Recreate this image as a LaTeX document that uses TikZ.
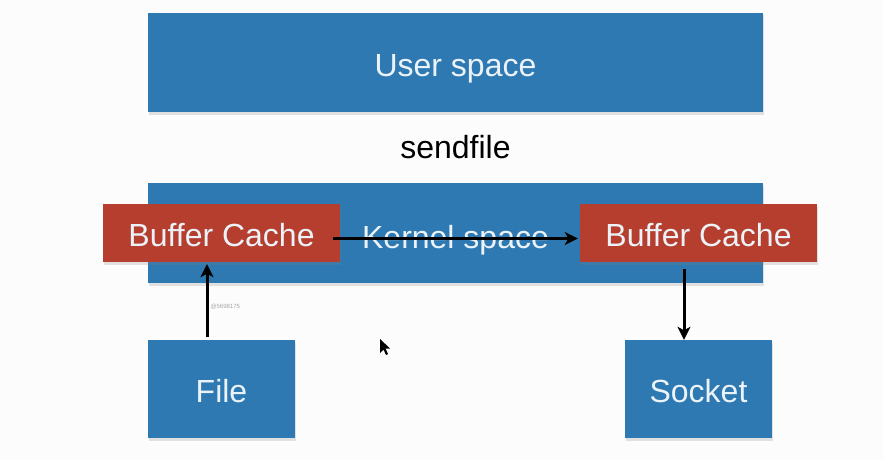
\documentclass[tikz,border=0pt]{standalone}
\usepackage{fontspec}
\setmainfont{Liberation Sans}
\usetikzlibrary{shadows,arrows.meta}
\definecolor{boxblue}{RGB}{46,121,178}
\definecolor{boxred}{RGB}{182,62,47}
\definecolor{labelwhite}{RGB}{236,243,248}
\definecolor{pagebg}{RGB}{252,252,252}
\begin{document}
\begin{tikzpicture}[x=1pt,y=-1pt,
  bigtext/.style={font=\fontsize{32}{38}\selectfont, text height=27pt, text depth=0pt},
  softshadow/.style={drop shadow={opacity=0.22, shadow xshift=1pt, shadow yshift=-2.5pt}},
  panel/.style={fill=boxblue, draw=none, minimum width=#1, text=labelwhite, bigtext, softshadow},
  cachebox/.style={fill=boxred, draw=none, minimum width=237pt, minimum height=58pt,
    text=labelwhite, bigtext, softshadow},
  flow/.style={draw=black, line width=3pt, -{Stealth[length=13pt,width=13pt,inset=3.5pt]}}]
\useasboundingbox[fill=pagebg] (0,0) rectangle (883,460);
% address spaces
\node[panel=615pt, minimum height=99pt] (user) at (455.5,62.5) {User space};
\node[font=\fontsize{32}{38}\selectfont, anchor=base] (call) at (455.5,158) {sendfile};
\node[panel=615pt, minimum height=100pt] (kernel) at (455.5,233) {};
\node[text=labelwhite, bigtext] (klabel) at (455.5,235) {Kernel space};
% page caches
\node[cachebox] (lbuf) at (221.5,233) {Buffer Cache};
\node[cachebox] (rbuf) at (698.5,233) {Buffer Cache};
% endpoints
\node[panel=147pt, minimum height=98pt] (file) at (221.5,389) {File};
\node[panel=147pt, minimum height=98pt] (sock) at (698.5,389) {Socket};
% data path
\draw[flow] ([xshift=-14.5pt,yshift=3pt]file.north) -- ([xshift=-14.5pt,yshift=-2pt]lbuf.south);
\draw[flow] ([xshift=-7pt,yshift=-5.5pt]lbuf.east) -- ([xshift=-2pt,yshift=-5.5pt]rbuf.west);
\draw[flow] ([xshift=-14.5pt,yshift=-7pt]rbuf.south) -- ([xshift=-14.5pt]sock.north);
% watermark
\node[text=black!35, font=\fontsize{6}{7}\selectfont, anchor=west] (mark) at (207,307) {@5698175};
% pointer
\fill[black] (380,339) -- (380,353) -- (383.5,349.5) -- (386,355) -- (388,354) -- (385.5,348.5) -- (390,348.5) -- cycle;
\end{tikzpicture}
\end{document}
